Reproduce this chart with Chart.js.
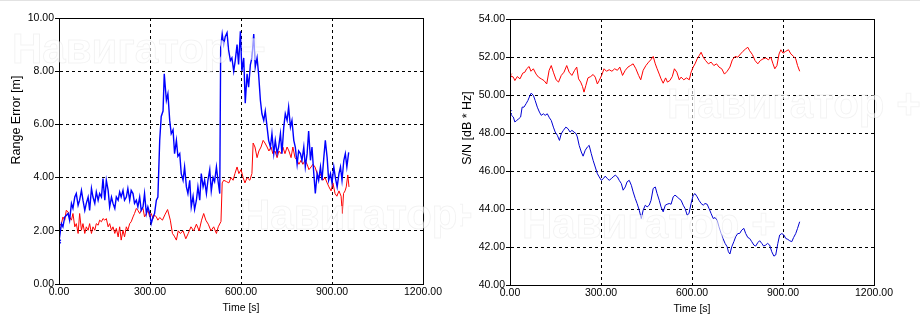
<!DOCTYPE html>
<html>
<head>
<meta charset="utf-8">
<script src="https://cdn.jsdelivr.net/npm/chart.js@4.4.1/dist/chart.umd.min.js"></script>
<style>
  body { margin: 0; background: #fff; }
  #wrap { position: relative; width: 920px; height: 324px; border-top: 1px solid #e2e2e2; box-sizing: border-box; }
  canvas { position: absolute; top: 0; }
</style>
</head>
<body>
<div id="wrap">
  <canvas id="rangeChart" width="460" height="323" style="left:0"></canvas>
  <canvas id="snChart" width="460" height="323" style="left:460px"></canvas>
</div>
<script>
// Range error, blue series (time [s], value [m])
const reBlueT = [0,8,13,19,30,35,41,46,52,57,63,68,74,79,85,90,96,101,107,112,118,123,129,134,140,145,151,156,162,167,173,178,184,189,195,200,205,211,216,222,227,233,238,244,249,255,260,266,271,277,282,288,293,299,304,310,315,321,326,
  332,337,343,347,354,359,365,370,376,381,387,392,398,403,409,414,420,425,431,436,442,447,453,458,464,469,475,480,486,491,497,502,508,513,519,524,530,533,538,
  543,548,554,559,565,570,576,581,587,592,598,603,609,614,620,625,631,636,642,647,653,658,664,669,675,680,686,691,697,702,708,713,719,724,730,735,741,746,752,757,
  763,768,774,779,785,790,796,801,807,812,818,823,829,834,840,845,851,856,862,867,873,878,884,889,895,900,906,911,917,923,928,933,939,944,949,955];
const reBlue = [1.6,2.27,2.15,2.52,2.65,2.4,3.03,2.84,3.27,3.4,2.96,3.15,3.52,3.15,2.77,3.03,3.27,2.77,3.59,3.27,3.03,3.46,3.15,3.4,3.27,3.96,3.15,3.9,3.52,2.9,3.27,3.03,2.84,3.27,3.15,3.46,3.27,3.52,3.15,3.27,3.59,3.15,3.52,3.4,3.03,3.15,2.9,3.27,2.77,2.9,3.4,2.65,2.9,2.65,2.27,2.52,2.65,3.15,3.27,
  5.4,6.3,6.5,7.9,6.9,7.15,6.15,5.65,5.8,4.9,5.4,4.8,4.9,4.15,3.9,4.4,3.65,3.4,3.9,2.9,3.3,2.8,3.15,3.65,3.15,4.15,3.65,3.9,3.4,3.9,4.3,3.5,4.0,3.85,4.4,3.9,3.4,8.9,9.4,
  9.0,9.3,9.45,8.8,8.4,8.5,8.0,8.4,9.0,8.25,9.5,8.0,8.5,6.8,7.9,7.4,8.25,8.5,9.4,8.15,8.5,7.9,6.9,6.4,6.15,6.5,5.9,5.4,5.15,5.65,4.9,5.4,4.9,5.15,5.65,4.9,5.9,6.4,6.15,6.65,
  5.9,6.15,5.4,5.15,4.5,5.0,4.9,4.65,5.15,4.4,4.9,5.75,4.65,5.15,4.15,3.4,4.15,3.9,4.4,3.9,4.75,5.4,4.75,3.9,4.15,3.8,4.4,4.0,3.65,4.15,4.4,3.9,4.65,4.9,4.4,4.95];

// Range error, red series
const reRedT = [0,8,13,19,24,30,35,41,46,52,57,63,68,74,79,85,90,96,101,107,112,118,123,129,134,140,145,151,156,162,167,173,178,184,189,195,200,205,211,216,222,227,233,238,244,249,255,260,266,271,277,282,288,293,299,304,310,315,321,326,
  332,341,349,358,367,374,380,387,393,400,409,418,426,435,444,453,462,470,477,484,492,501,510,519,525,534,538,543,552,560,567,574,580,587,593,600,607,613,620,629,636,640,
  646,653,659,666,673,679,686,692,699,705,712,719,725,732,738,745,752,758,765,771,778,785,791,798,804,811,818,824,831,837,844,851,857,864,870,877,884,890,897,903,910,916,923,930,934,938,943,947,952,956];
const reRed = [2.17,2.27,2.52,2.4,2.77,2.71,2.52,2.4,2.65,2.15,2.27,1.9,2.65,2.02,2.27,1.9,2.15,2.02,2.27,1.9,2.15,2.02,2.27,2.21,2.4,2.34,2.46,2.4,2.46,2.15,2.27,2.02,2.15,1.9,2.09,1.77,2.15,1.65,2.02,1.77,2.15,2.02,2.27,2.34,2.52,2.65,2.84,2.77,2.65,2.77,2.84,2.52,2.65,2.77,2.52,2.65,2.46,2.59,2.52,2.4,
  2.5,2.4,2.6,2.8,2.4,1.9,1.8,1.65,2.0,1.9,2.0,1.7,1.9,2.15,2.0,2.25,2.0,2.4,2.65,2.4,2.25,2.0,2.15,1.9,2.15,2.35,3.8,3.9,3.85,3.8,4.0,3.9,4.15,4.4,4.15,4.3,4.0,3.8,4.0,3.9,4.15,5.3,
  5.15,4.75,5.0,5.15,5.4,5.3,5.15,5.0,5.15,4.9,5.0,4.75,5.0,4.9,5.15,4.9,5.15,5.0,4.75,5.15,4.75,4.65,4.5,4.65,4.5,4.65,4.5,4.3,4.4,4.5,4.4,4.15,4.0,4.15,3.9,4.0,3.8,3.65,3.5,3.8,3.4,3.3,3.5,3.3,2.65,3.4,3.5,3.65,4.1,3.65];

// S/N, red series (time [s], value [dB*Hz])
const snRedT = [0,11,16,24,33,42,49,55,63,69,77,86,94,103,112,121,129,136,143,152,160,169,178,187,195,204,213,220,226,233,239,244,250,257,266,274,281,288,294,302,
  310,318,327,336,345,354,362,371,380,389,397,406,415,424,431,439,448,457,464,472,479,485,492,498,505,513,519,527,535,542,550,558,564,573,582,591,597,604,610,617,
  624,630,637,645,654,663,672,681,689,698,707,716,725,733,742,751,760,768,777,784,790,799,808,817,825,834,843,852,860,867,873,880,887,893,900,909,918,926,935,942,948,955];
const snRed = [51.03,50.94,50.76,50.97,50.85,51.15,51.2,51.38,51.5,51.25,51.38,51.1,50.94,50.85,50.76,50.58,51.3,51.55,51.2,50.8,50.68,51.03,51.2,51.55,51.2,51.03,51.3,51.47,50.85,50.68,50.45,50.15,50.5,50.9,50.97,51.08,50.94,50.58,50.76,51.03,
  51.38,51.25,51.33,51.25,51.38,51.3,51.47,51.03,51.3,51.47,51.55,51.64,51.38,51.03,50.8,51.3,51.55,51.73,51.85,52.03,51.64,51.38,51.1,50.85,50.62,50.9,50.68,50.76,50.97,51.38,51.2,50.8,50.94,50.8,50.9,50.8,51.2,51.47,51.64,51.9,
  52.08,52.25,51.99,51.81,51.64,51.73,51.55,51.64,51.47,51.38,51.1,51.25,51.47,51.85,52.03,51.99,52.16,52.3,52.43,52.51,52.33,52.13,51.81,51.64,51.81,51.9,51.95,51.85,51.99,51.64,51.38,51.55,52.16,52.38,52.2,52.3,52.38,52.16,52.03,51.9,51.55,51.25];

// S/N, blue series
const snBlueT = [0,5,11,16,22,29,35,40,46,53,59,66,70,77,83,90,97,103,110,116,123,130,136,143,149,156,163,169,176,184,191,198,204,211,218,222,228,235,241,248,
  255,261,268,274,281,288,294,301,308,314,321,327,334,340,347,354,360,367,373,380,386,393,400,406,413,419,426,433,439,446,452,459,465,472,479,485,492,498,505,512,
  518,525,531,538,544,551,557,564,571,577,584,590,597,604,610,617,623,630,637,643,650,656,663,670,676,683,689,696,702,709,716,720,725,731,738,744,751,757,764,771,
  777,784,790,797,804,810,817,823,830,836,843,849,856,863,870,876,883,889,896,903,909,916,922,929,935,942,948,955];
const snBlue = [49.1,48.93,48.84,48.58,48.66,48.75,48.84,49.36,49.36,49.54,49.71,49.98,50.1,49.98,49.71,49.36,49.1,48.93,49.01,48.93,49.01,48.8,48.66,48.31,48.05,47.88,47.61,47.96,48.14,48.31,48.23,48.05,48.14,48.05,47.96,47.79,47.35,47.0,46.78,47.09,
  47.26,47.35,46.91,46.56,46.21,45.86,45.69,45.51,45.6,45.73,45.6,45.51,45.6,45.69,45.78,45.69,45.51,45.34,44.99,45.16,45.43,45.51,45.25,44.9,44.55,44.29,43.94,43.5,43.94,44.2,44.11,44.2,44.46,45.08,45.16,44.81,44.46,44.11,43.85,44.2,
  44.25,44.29,44.25,44.64,44.73,44.64,44.55,44.46,44.2,44.03,43.68,43.76,44.29,44.73,44.81,44.64,44.46,44.29,44.2,44.29,44.25,44.03,43.76,43.5,43.55,43.41,43.06,42.71,42.45,42.19,42.01,41.75,41.63,42.01,42.28,42.54,42.71,42.71,42.89,42.98,
  42.71,42.5,42.45,42.28,42.1,42.05,42.23,42.33,42.19,42.05,42.1,42.19,42.1,41.75,41.52,41.58,42.19,42.63,42.71,42.63,42.45,42.4,42.33,42.28,42.5,42.71,42.98,43.33];

// axis ticks
const timeTicks = [0, 300, 600, 900, 1200];
const rangeTicks = [0, 2, 4, 6, 8, 10];
const snTicks = [40, 42, 44, 46, 48, 50, 52, 54];

const FONT = '"Liberation Sans", Arial, sans-serif';
const zip = (t, v) => t.map((x, i) => ({x: x, y: v[i]}));

// frame box, axis titles and the faint watermark
const framePlugin = {
  id: 'frame',
  afterDraw(chart, args, o) {
    const ctx = chart.ctx;
    const a = chart.chartArea;
    ctx.save();
    ctx.strokeStyle = '#000';
    ctx.lineWidth = 1;
    ctx.strokeRect(a.left + 0.5, a.top + 0.5, a.right - a.left, a.bottom - a.top);

    ctx.fillStyle = '#000';
    ctx.textAlign = 'center';
    ctx.textBaseline = 'middle';
    ctx.font = '10.5px ' + FONT;
    ctx.fillText(o.xTitle[0], o.xTitle[1], o.xTitle[2]);
    ctx.save();
    ctx.translate(o.yTitle[1], o.yTitle[2]);
    ctx.rotate(-Math.PI / 2);
    ctx.font = '12.5px ' + FONT;
    ctx.fillText(o.yTitle[0], 0, 0);
    ctx.restore();

    ctx.textAlign = 'left';
    ctx.textBaseline = 'alphabetic';
    ctx.font = 'bold 42px ' + FONT;
    ctx.fillStyle = 'rgba(255,255,255,0.6)';
    ctx.strokeStyle = 'rgba(0,0,0,0.05)';
    ctx.lineWidth = 1;
    o.marks.forEach(m => {
      ctx.fillText(m[0], m[1], m[2]);
      ctx.strokeText(m[0], m[1], m[2]);
    });
    ctx.restore();
  }
};

function makeChart(id, datasets, yMin, yMax, yTicks, box, titles) {
  new Chart(document.getElementById(id), {
    type: 'line',
    data: {datasets: datasets},
    options: {
      responsive: false,
      animation: false,
      layout: {padding: {left: 0, right: box.right, top: box.top, bottom: 0}},
      elements: {
        line: {borderWidth: 1, tension: 0},
        point: {radius: ctx => ctx.dataIndex === 0 ? 2.5 : 0, pointStyle: 'crossRot', borderWidth: 1}
      },
      scales: {
        x: {
          type: 'linear',
          min: 0, max: 1200,
          afterBuildTicks: s => { s.ticks = timeTicks.map(v => ({value: v})); },
          afterFit: s => { s.height = box.xh; },
          ticks: {color: '#000', font: {family: FONT, size: 10.5}, padding: 2, maxRotation: 0,
                  callback: v => v.toFixed(2)},
          grid: {color: '#000', drawTicks: false},
          border: {display: true, color: '#000', dash: [3, 3]}
        },
        y: {
          min: yMin, max: yMax,
          afterBuildTicks: s => { s.ticks = yTicks.map(v => ({value: v})); },
          afterFit: s => { s.width = box.yw; },
          ticks: {color: '#000', font: {family: FONT, size: 10.5}, padding: 1,
                  callback: v => v.toFixed(2)},
          grid: {color: '#000', tickLength: 4, tickColor: '#000'},
          border: {display: true, color: '#000', dash: [3, 3]}
        }
      },
      plugins: {
        legend: {display: false},
        tooltip: {enabled: false},
        frame: titles
      }
    },
    plugins: [framePlugin]
  });
}

makeChart('rangeChart', [
  {data: zip(reBlueT, reBlue), borderColor: 'rgb(0,0,255)', borderWidth: 1.4},
  {data: zip(reRedT, reRed), borderColor: 'rgb(255,0,0)', borderWidth: 1}
], 0, 10, rangeTicks, {right: 37, top: 17, xh: 40, yw: 59}, {
  xTitle: ['Time [s]', 241, 307],
  yTitle: ['Range Error [m]', 17, 119],
  marks: [['Навигатор +', 12, 62], ['Навигатор +', 240, 228]]
});

makeChart('snChart', [
  {data: zip(snRedT, snRed), borderColor: 'rgb(255,0,0)'},
  {data: zip(snBlueT, snBlue), borderColor: 'rgb(0,0,210)'}
], 40, 54, snTicks, {right: 46, top: 18, xh: 39, yw: 50}, {
  xTitle: ['Time [s]', 232, 308],
  yTitle: ['S/N [dB * Hz]', 8, 127],
  marks: [['Навигатор +', 207, 117], ['Навигатор +', 62, 237], ['+', -12, 228]]
});
</script>
</body>
</html>
